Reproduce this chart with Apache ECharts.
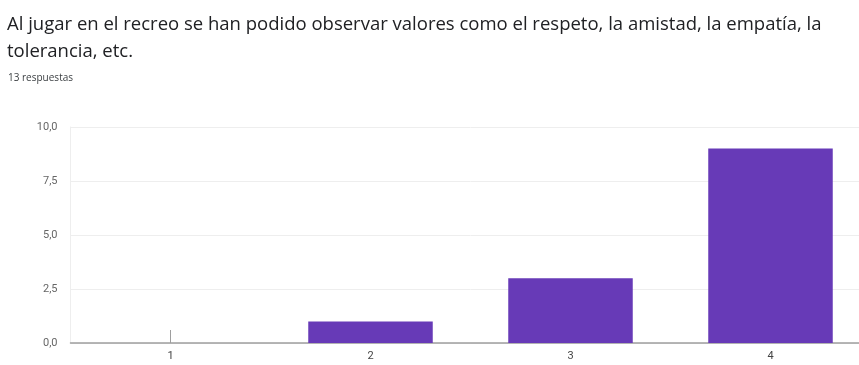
<!DOCTYPE html>
<html>
<head>
<meta charset="utf-8">
<script src="https://cdn.jsdelivr.net/npm/echarts@6/dist/echarts.min.js"></script>
<style>
  html, body { margin: 0; padding: 0; background: #fff; overflow: hidden; }
  /* the plot runs a little past the right edge of the window */
  #chart { width: 872px; height: 365px; }
</style>
</head>
<body>
<div id="chart"></div>
<script>
// Survey answers on a 1–4 scale and how many people picked each
const categories = ['1', '2', '3', '4'];
const counts = [0, 1, 3, 9];
const yTicks = [0, 2.5, 5, 7.5, 10];

const question = 'Al jugar en el recreo se han podido observar valores como el respeto, la amistad, la empatía, la\ntolerancia, etc.';
const responses = '13 respuestas';

const chart = echarts.init(document.getElementById('chart'));
chart.setOption({
  animation: false,
  backgroundColor: '#fff',
  title: [
    {
      text: question,
      left: 7,
      top: 11,
      padding: 0,
      textStyle: { fontFamily: 'Open Sans', fontSize: 18.5, fontWeight: 'normal', color: '#202124', lineHeight: 27 }
    },
    {
      text: responses,
      left: 8,
      top: 73,
      padding: 0,
      textStyle: { fontFamily: 'Open Sans', fontSize: 10, fontWeight: 'normal', color: '#3c4043' }
    }
  ],
  grid: { left: 70.5, top: 127, width: 800, height: 216, containLabel: false },
  xAxis: {
    type: 'category',
    data: categories,
    axisLine: { lineStyle: { color: '#9e9e9e', width: 1.5 } },
    axisTick: {
      show: true,
      alignWithLabel: true,
      inside: true,
      length: 13,
      interval: (i) => counts[i] === 0,
      lineStyle: { color: '#9e9e9e' }
    },
    axisLabel: { color: '#444', fontFamily: 'Roboto', fontSize: 11, margin: 8 },
    splitLine: { show: false }
  },
  yAxis: {
    type: 'value',
    min: yTicks[0],
    max: yTicks[yTicks.length - 1],
    interval: 2.5,
    axisLine: { show: true, lineStyle: { color: '#eeeeee' } },
    axisTick: { show: false },
    axisLabel: {
      color: '#666',
      fontFamily: 'Roboto',
      fontSize: 11,
      margin: 13,
      formatter: (v) => v.toFixed(1).replace('.', ',')
    },
    splitLine: { lineStyle: { color: '#eeeeee' } }
  },
  series: [{
    type: 'bar',
    data: counts,
    barWidth: 124.5,
    itemStyle: { color: '#673ab7' }
  }]
});
</script>
</body>
</html>
